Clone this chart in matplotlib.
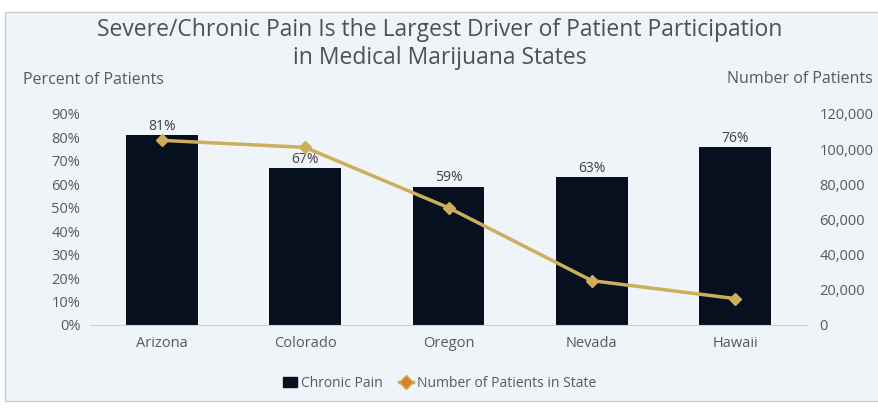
import matplotlib
matplotlib.use('Agg')
import matplotlib.pyplot as plt
from matplotlib.lines import Line2D
from matplotlib.patches import Patch, Rectangle
from matplotlib.ticker import FuncFormatter

plt.rcParams['font.family'] = ['Open Sans', 'DejaVu Sans']

states = ['Arizona', 'Colorado', 'Oregon', 'Nevada', 'Hawaii']
chronic_pain = [0.81, 0.67, 0.59, 0.63, 0.76]
num_patients = [105000, 101000, 66700, 25200, 15000]
pct_ticks = [0, 0.1, 0.2, 0.3, 0.4, 0.5, 0.6, 0.7, 0.8, 0.9]
num_ticks = [0, 20000, 40000, 60000, 80000, 100000, 120000]

BG = '#eef4f8'
BAR = '#07101f'
GOLD = '#cdae5a'
TXT = '#595959'

fig = plt.figure(figsize=(8.79, 4.09), dpi=100, facecolor='white')
fig.patches.append(Rectangle((0.006, 0.02), 0.994, 0.95, transform=fig.transFigure,
                             facecolor=BG, edgecolor='#c8ccd0', lw=1, zorder=-1))

ax = fig.add_axes([0.1024, 0.2054, 0.8157, 0.5159])
ax.set_facecolor('none')
x = range(len(states))
ax.bar(x, chronic_pain, width=0.5, color=BAR, zorder=2)
for xi, v in zip(x, chronic_pain):
    ax.text(xi, v + 0.005, f'{v:.0%}', ha='center', va='bottom', fontsize=10, color='#404040')
ax.set_xlim(-0.5, 4.5)
ax.set_ylim(0, 0.9)
ax.set_yticks(pct_ticks)
ax.yaxis.set_major_formatter(FuncFormatter(lambda v, p: f'{v:.0%}'))
ax.set_xticks(list(x))
ax.set_xticklabels(states)
for s in ['top', 'right', 'left']:
    ax.spines[s].set_visible(False)
ax.spines['bottom'].set_color('#d0d0d0')
ax.tick_params(axis='both', length=0, labelsize=10.5, labelcolor=TXT)
ax.tick_params(axis='x', pad=8)
ax.tick_params(axis='y', pad=7)

ax2 = ax.twinx()
ax2.plot(list(x), num_patients, color=GOLD, lw=2.5, marker='D', ms=6,
         mfc=GOLD, mec=GOLD, zorder=3)
ax2.set_ylim(0, 120000)
ax2.set_yticks(num_ticks)
ax2.yaxis.set_major_formatter(FuncFormatter(lambda v, p: f'{v:,.0f}'))
for s in ax2.spines.values():
    s.set_visible(False)
ax2.tick_params(axis='y', length=0, labelsize=10.5, labelcolor=TXT, pad=9)

fig.text(0.5, 0.893, 'Severe/Chronic Pain Is the Largest Driver of Patient Participation\nin Medical Marijuana States',
         ha='center', va='center', fontsize=16.5, color='#505050', linespacing=1.2)
fig.text(0.026, 0.805, 'Percent of Patients', ha='left', va='center', fontsize=11.5, color=TXT)
fig.text(0.993, 0.807, 'Number of Patients', ha='right', va='center', fontsize=11.5, color=TXT)

handles = [Patch(facecolor=BAR, edgecolor=BAR),
           Line2D([0], [0], color=GOLD, lw=2.5, marker='D', ms=7, mfc='#d9822b', mec=GOLD)]
fig.legend(handles, ['Chronic Pain', 'Number of Patients in State'], loc='center',
           bbox_to_anchor=(0.5, 0.063), ncol=2, frameon=False, fontsize=10,
           handlelength=1.0, handletextpad=0.3, columnspacing=1.2, labelcolor=TXT)

fig.savefig('out.png', dpi=100, facecolor=fig.get_facecolor())
